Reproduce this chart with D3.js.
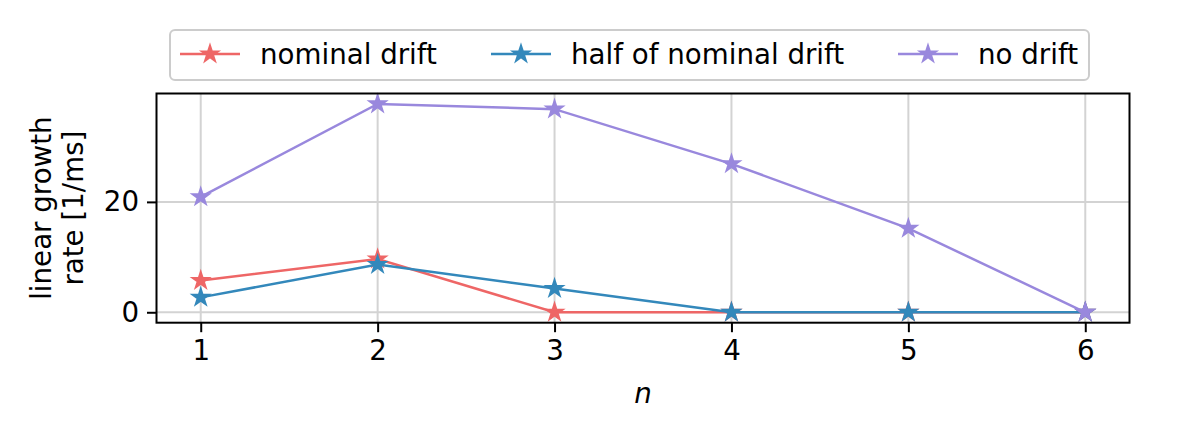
<!DOCTYPE html>
<html><head><meta charset="utf-8">
<script src="https://cdn.jsdelivr.net/npm/d3@7"></script>
<style>
html,body{margin:0;padding:0;background:#fff;}
svg{display:block;font-family:"DejaVu Sans",sans-serif;}
</style></head>
<body><svg id="c" width="1180" height="440"></svg>
<script>
const nValues = [1, 2, 3, 4, 5, 6];
const nominalDrift = [5.75, 9.65, 0, 0, 0, 0];
const halfNominalDrift = [2.7, 8.65, 4.3, 0, 0, 0];
const noDrift = [20.9, 37.75, 36.8, 26.9, 15.2, 0];
const seriesNames = ["nominal drift", "half of nominal drift", "no drift"];
const seriesColors = ["#EE6666", "#3388BB", "#9988DD"];
const xTicks = [1, 2, 3, 4, 5, 6];
const yTicks = [0, 20];

const svg = d3.select("#c");
const L = 156.5, R = 1129.5, T = 93.5, B = 322.7;
const x = d3.scaleLinear().domain([0.75, 6.25]).range([L, R]);
const y = d3.scaleLinear().domain([-1.89, 39.64]).range([B, T]);
const FS = 27.7;

// grid
const g = svg.append("g");
g.selectAll(".gx").data(xTicks).enter().append("line")
  .attr("x1", d => x(d)).attr("x2", d => x(d)).attr("y1", T).attr("y2", B)
  .attr("stroke", "#d3d3d3").attr("stroke-width", 2);
g.selectAll(".gy").data(yTicks).enter().append("line")
  .attr("y1", d => y(d)).attr("y2", d => y(d)).attr("x1", L).attr("x2", R)
  .attr("stroke", "#d3d3d3").attr("stroke-width", 2);

// axes
const xAxis = d3.axisBottom(x).tickValues(xTicks).tickSize(9.5).tickPadding(8).tickFormat(d3.format("d"));
const yAxis = d3.axisLeft(y).tickValues(yTicks).tickSize(9.5).tickPadding(8).tickFormat(d3.format("d"));
const gx = svg.append("g").attr("transform", `translate(0,${B})`).call(xAxis);
const gy = svg.append("g").attr("transform", `translate(${L},0)`).call(yAxis);
[gx, gy].forEach(a => {
  a.select(".domain").remove();
  a.selectAll("line").attr("stroke", "#000").attr("stroke-width", 2);
  a.selectAll("text").attr("font-size", FS).attr("fill", "#000").attr("font-family", "DejaVu Sans");
});

// series
const allSeries = [nominalDrift, halfNominalDrift, noDrift];
const line = d3.line().x((d, i) => x(nValues[i])).y(d => y(d));
const star = d3.symbol().type(d3.symbolStar).size(80);
allSeries.forEach((s, k) => {
  svg.append("path").datum(s).attr("d", line).attr("fill", "none")
    .attr("stroke", seriesColors[k]).attr("stroke-width", 2.5);
  svg.selectAll(null).data(s).enter().append("path")
    .attr("d", star)
    .attr("transform", (d, i) => `translate(${x(nValues[i])},${y(d)})`)
    .attr("fill", seriesColors[k]).attr("stroke", seriesColors[k]).attr("stroke-width", 2)
    .attr("stroke-linejoin", "miter");
});

// frame
svg.append("rect").attr("x", L).attr("y", T).attr("width", R - L).attr("height", B - T)
  .attr("fill", "none").attr("stroke", "#000").attr("stroke-width", 2);

// axis labels
svg.append("text").attr("x", (L + R) / 2).attr("y", 403).attr("text-anchor", "middle")
  .attr("font-size", FS).attr("font-style", "italic").text("n");
const yl = svg.append("text").attr("transform", `translate(0,${(T + B) / 2}) rotate(-90)`)
  .attr("text-anchor", "middle").attr("font-size", FS);
yl.append("tspan").attr("x", 0).attr("y", 51).text("linear growth");
yl.append("tspan").attr("x", 0).attr("y", 83).text("rate [1/ms]");

// legend
const lg = svg.append("g");
lg.append("rect").attr("x", 170).attr("y", 30).attr("width", 919).attr("height", 50).attr("rx", 5)
  .attr("fill", "#fff").attr("fill-opacity", 0.8).attr("stroke", "#cccccc").attr("stroke-width", 2);
const lx = [180, 491, 898];
seriesNames.forEach((nm, k) => {
  const yy = 54;
  lg.append("line").attr("x1", lx[k]).attr("x2", lx[k] + 60).attr("y1", yy).attr("y2", yy)
    .attr("stroke", seriesColors[k]).attr("stroke-width", 2.5);
  lg.append("path").attr("d", star).attr("transform", `translate(${lx[k] + 30},${yy})`)
    .attr("fill", seriesColors[k]).attr("stroke", seriesColors[k]).attr("stroke-width", 2);
  lg.append("text").attr("x", lx[k] + 80).attr("y", yy + 10).attr("font-size", FS).text(nm);
});
</script></body></html>
